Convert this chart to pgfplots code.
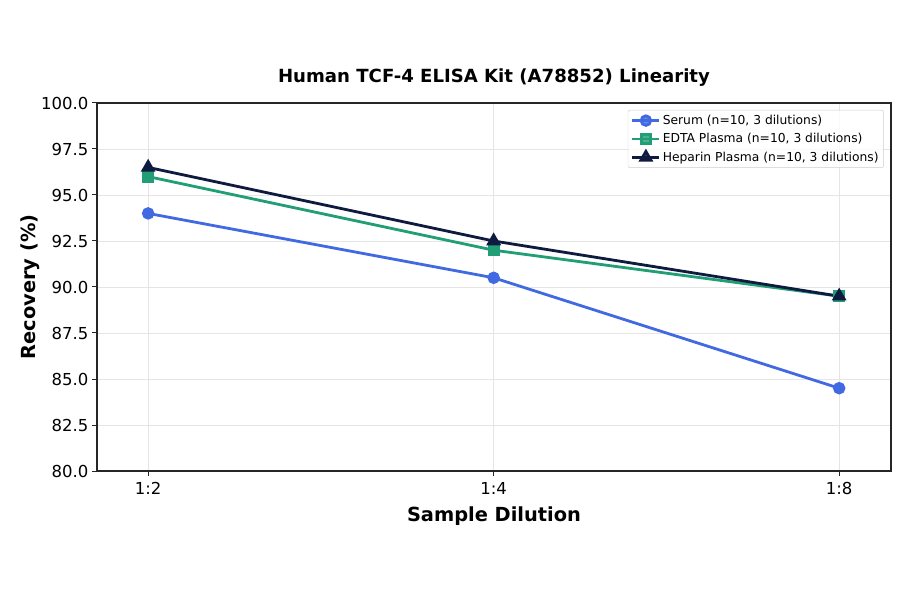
\documentclass[border=0pt]{standalone}
\usepackage{fontspec}
\setmainfont{DejaVu Sans}
\usepackage{pgfplots}
\pgfplotsset{compat=1.18}
\definecolor{serum}{HTML}{4169E1}
\definecolor{edta}{HTML}{229E76}
\definecolor{hep}{HTML}{0E1A3F}
\begin{document}
\begin{tikzpicture}
\path[use as bounding box] (-97bp,-123bp) rectangle (803bp,471bp);
\begin{axis}[
  at={(0,0)}, anchor=south west, scale only axis,
  width=794bp, height=368bp,
  xmin=-0.148, xmax=2.15, ymin=80, ymax=100,
  xtick={0,1,2}, xticklabels={1:2,1:4,1:8},
  ytick={80,82.5,85,87.5,90,92.5,95,97.5,100},
  /pgf/number format/assume math mode=true,
  yticklabel style={/pgf/number format/.cd, fixed, fixed zerofill, precision=1},
  xticklabel style={yshift=-3bp},
  tick label style={font=\fontsize{16.5bp}{19bp}\selectfont},
  tick align=outside, tick pos=left, major tick length=5bp,
  tick style={black!85, line width=1bp},
  axis line style={black!85, line width=1.2bp},
  grid=major, grid style={black!10, line width=0.8bp},
  title={\bfseries Human TCF-4 ELISA Kit (A78852) Linearity},
  title style={at={(axis description cs:0.5,1)}, anchor=center, yshift=19bp, font=\fontsize{18.1bp}{21bp}\selectfont},
  xlabel={\bfseries Sample Dilution},
  xlabel style={at={(axis description cs:0.5,0)}, anchor=center, yshift=-45bp, font=\fontsize{19.4bp}{22bp}\selectfont},
  ylabel={\bfseries Recovery (\%)},
  ylabel style={at={(axis description cs:-0.0844,0.5)}, anchor=center, font=\fontsize{19.4bp}{22bp}\selectfont},
  legend style={at={(rel axis cs:0.991,0.981)}, anchor=north east, draw=black!20, rounded corners=2bp,
    fill=white, fill opacity=0.8, text opacity=1, font=\fontsize{12.3bp}{14bp}\selectfont,
    row sep=3.5bp, inner xsep=3bp, inner ysep=3bp},
  legend cell align=left,
  legend image code/.code={\draw[mark repeat=2,mark phase=2] plot coordinates {(0bp,0bp)(13.5bp,0bp)(27bp,0bp)};},
]
\addplot[serum, line width=2.8bp, mark=*, mark size=4.8bp, mark options={solid}] coordinates {(0,94.0) (1,90.5) (2,84.5)};
\addlegendentry{Serum (n=10, 3 dilutions)}
\addplot[edta, line width=2.8bp, mark=square*, mark size=4.6bp] coordinates {(0,96.0) (1,92.0) (2,89.5)};
\addlegendentry{EDTA Plasma (n=10, 3 dilutions)}
\addplot[hep, line width=2.8bp, mark=triangle*, mark size=5.8bp] coordinates {(0,96.5) (1,92.5) (2,89.5)};
\addlegendentry{Heparin Plasma (n=10, 3 dilutions)}
\end{axis}
\end{tikzpicture}
\end{document}
